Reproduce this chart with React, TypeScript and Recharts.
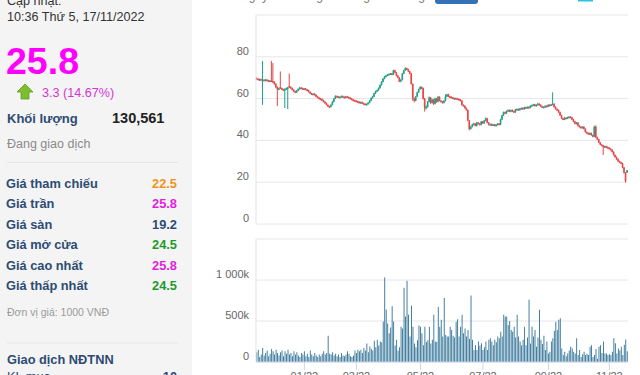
import { Bar, BarChart, CartesianGrid, XAxis, YAxis } from "recharts";

const FONT = '"Liberation Sans", Arial, sans-serif';
const GREEN = "#1f9f8a";
const RED = "#e84545";
const VOL = "#2f7196";

// sessions per month on the x axis (Nov 18 2021 - Nov 17 2022)
const monthLabels = ["11/21", "12/21", "01/22", "02/22", "03/22", "04/22", "05/22", "06/22", "07/22", "08/22", "09/22", "10/22", "11/22"];
const monthSessions = [9, 23, 19, 16, 23, 20, 20, 22, 21, 23, 20, 21, 13];
const shownMonths = ["01/22", "03/22", "05/22", "07/22", "09/22", "11/22"];

const opens = [
  69.8, 69.5, 69.2, 69.0, 68.8, 69.0, 68.8, 69.0, 68.7, 68.5,
  68.6, 68.4, 68.0, 67.0, 65.5, 64.6, 65.5, 65.0, 64.5, 64.2,
  64.5, 65.0, 66.0, 65.6, 65.0, 64.2, 63.5, 63.0, 63.8, 64.6,
  65.2, 65.0, 64.5, 64.8, 64.3, 64.0, 63.2, 62.5, 62.0, 62.3,
  61.8, 61.0, 60.5, 60.0, 59.8, 59.2, 58.5, 57.8, 57.0, 56.3,
  56.0, 57.0, 58.5, 60.0, 61.2, 61.0, 60.6, 60.8, 61.2, 60.8,
  60.5, 61.0, 60.7, 60.4, 60.0, 59.5, 59.2, 59.0, 58.7, 58.5,
  58.0, 58.3, 57.8, 57.5, 57.2, 57.4, 58.0, 59.0, 60.3, 61.0,
  62.5, 63.5, 64.0, 65.0, 66.5, 68.0, 69.5, 70.5, 71.0, 71.5,
  71.8, 72.0, 71.5, 73.5, 72.5, 71.0, 70.0, 68.2, 69.0, 72.0,
  73.5, 74.5, 74.0, 73.0, 72.0, 67.0, 60.0, 59.0, 61.0, 63.0,
  64.5, 65.5, 65.0, 60.0, 55.5, 56.0, 58.5, 60.5, 58.0, 59.5,
  57.5, 60.0, 58.5, 60.8, 59.0, 58.5, 58.0, 59.0, 61.0, 62.0,
  61.0, 60.8, 60.5, 60.0, 60.2, 60.0, 59.8, 59.5, 59.0, 57.0,
  56.5, 55.5, 54.5, 49.5, 45.5, 46.5, 47.5, 48.0, 47.0, 48.5,
  48.0, 47.5, 49.0, 48.2, 49.5, 50.5, 48.5, 47.5, 47.8, 47.2,
  47.6, 47.0, 47.5, 48.0, 47.6, 50.0, 52.0, 53.5, 53.0, 54.0,
  54.5, 53.8, 54.5, 54.0, 53.5, 54.8, 55.0, 54.5, 55.2, 55.5,
  55.0, 55.8, 55.5, 56.0, 55.6, 56.5, 56.8, 57.2, 56.5, 57.0,
  57.5, 57.0, 56.3, 55.8, 56.0, 56.5, 56.2, 57.0, 56.8, 57.2,
  57.5, 56.0, 55.0, 54.5, 53.5, 52.0, 50.5, 50.0, 50.8, 50.5,
  51.0, 51.3, 51.0, 50.0, 49.0, 48.0, 48.5, 47.0, 46.5, 46.0,
  46.5, 45.5, 44.0, 43.5, 43.0, 43.5, 42.5, 41.8, 46.5, 41.5,
  40.5, 39.0, 38.0, 37.5, 36.8, 37.2, 36.8, 36.5, 36.0, 35.5,
  34.5, 33.0, 32.0, 31.0, 30.0, 29.5, 29.0, 27.0, 24.5, 24.5,
];

const highs = [
  70.2, 69.8, 69.5, 69.6, 78.0, 69.3, 69.4, 69.3, 69.0, 68.9,
  78.0, 77.0, 68.3, 67.3, 65.8, 65.2, 73.0, 65.3, 64.8, 64.9,
  65.3, 65.6, 72.0, 65.9, 65.3, 64.5, 63.8, 64.1, 64.9, 65.6,
  65.5, 65.3, 65.1, 65.1, 64.6, 64.3, 63.5, 62.8, 62.6, 62.6,
  62.1, 61.3, 60.8, 60.3, 60.1, 59.5, 58.8, 58.1, 57.3, 56.6,
  57.3, 58.8, 60.3, 61.6, 61.5, 61.3, 61.1, 61.5, 61.5, 61.1,
  61.3, 61.3, 61.0, 60.7, 60.3, 59.8, 59.5, 59.3, 59.0, 58.8,
  58.6, 58.6, 58.1, 57.8, 57.7, 58.3, 59.3, 60.6, 61.3, 62.8,
  63.8, 64.3, 65.3, 66.8, 68.3, 69.8, 70.8, 71.3, 71.8, 72.1,
  72.3, 72.3, 73.8, 73.8, 72.8, 71.3, 70.3, 69.3, 72.3, 73.8,
  75.0, 74.8, 74.3, 73.3, 72.3, 67.3, 60.5, 61.3, 63.3, 64.8,
  66.0, 65.8, 65.3, 60.3, 56.8, 58.8, 61.0, 60.8, 60.0, 59.8,
  60.5, 60.3, 61.3, 61.1, 59.3, 58.8, 59.3, 62.0, 62.3, 62.3,
  61.3, 61.1, 60.8, 60.5, 60.5, 60.3, 60.1, 59.8, 59.3, 57.3,
  56.8, 55.8, 54.8, 49.8, 47.0, 48.0, 48.5, 48.3, 48.8, 48.8,
  48.3, 49.3, 49.3, 49.8, 51.0, 50.8, 48.8, 48.1, 48.1, 47.9,
  47.9, 47.8, 48.3, 48.3, 50.3, 52.3, 53.8, 53.8, 54.3, 54.8,
  54.8, 54.8, 54.8, 54.3, 55.1, 55.3, 55.3, 55.5, 55.8, 55.8,
  56.1, 56.1, 56.3, 56.3, 56.8, 57.1, 57.5, 57.5, 57.3, 58.0,
  57.8, 57.3, 56.6, 56.3, 56.8, 56.8, 57.3, 57.3, 57.5, 63.0,
  57.8, 56.3, 55.3, 54.8, 53.8, 52.3, 50.8, 51.1, 51.1, 51.3,
  51.6, 51.6, 51.3, 50.3, 49.3, 48.8, 48.8, 47.3, 46.8, 46.8,
  46.8, 45.8, 44.3, 43.8, 43.8, 43.8, 42.8, 47.0, 47.2, 41.8,
  40.8, 39.3, 38.3, 37.8, 37.5, 37.5, 37.1, 36.8, 36.3, 35.8,
  34.8, 33.3, 32.3, 31.3, 30.3, 29.8, 29.3, 27.3, 24.8, 25.8,
];

const lows = [
  69.2, 68.9, 68.7, 68.8, 57.0, 68.5, 68.5, 68.4, 68.2, 68.2,
  68.0, 67.6, 66.6, 65.0, 56.5, 64.2, 64.6, 64.1, 63.8, 55.5,
  64.2, 55.0, 65.2, 64.7, 63.9, 63.1, 62.6, 62.7, 63.5, 64.3,
  64.7, 64.2, 64.2, 64.0, 63.7, 62.9, 62.2, 61.7, 61.7, 61.5,
  60.7, 60.2, 59.7, 59.5, 58.9, 58.2, 57.5, 56.7, 56.0, 55.6,
  55.8, 56.8, 58.2, 59.8, 60.7, 60.3, 60.3, 60.5, 60.5, 60.2,
  60.2, 60.4, 60.1, 59.7, 59.2, 58.9, 58.7, 58.4, 58.2, 57.7,
  57.7, 57.5, 57.2, 56.9, 56.9, 57.1, 57.7, 58.7, 60.0, 60.7,
  62.2, 63.2, 63.7, 64.7, 66.2, 67.7, 69.2, 70.2, 70.7, 71.2,
  71.5, 71.2, 71.2, 72.2, 70.7, 69.7, 67.9, 67.9, 68.7, 71.7,
  73.2, 73.7, 72.7, 71.7, 66.7, 59.0, 58.2, 58.7, 60.7, 62.7,
  64.2, 64.5, 59.5, 53.8, 54.8, 55.7, 58.2, 57.5, 57.7, 57.0,
  57.2, 58.0, 58.2, 58.7, 58.2, 57.7, 57.7, 58.7, 60.7, 60.7,
  60.2, 60.2, 59.7, 59.7, 59.7, 59.5, 59.2, 58.7, 56.7, 56.2,
  55.2, 54.2, 49.2, 44.8, 45.2, 46.2, 47.2, 46.7, 46.7, 47.7,
  47.2, 47.2, 47.9, 47.9, 49.2, 48.2, 47.2, 47.2, 46.9, 46.9,
  46.7, 46.7, 47.2, 47.3, 47.3, 49.7, 51.7, 52.7, 52.7, 53.7,
  53.5, 53.5, 53.7, 53.2, 53.2, 54.5, 54.2, 54.2, 54.9, 54.7,
  54.7, 55.2, 55.2, 55.3, 55.3, 56.2, 56.5, 56.2, 56.2, 56.7,
  56.7, 56.0, 55.5, 55.5, 55.7, 55.9, 55.9, 56.5, 56.5, 56.9,
  55.7, 54.7, 54.2, 53.2, 51.7, 50.2, 49.7, 49.7, 50.2, 50.2,
  50.7, 50.7, 49.7, 48.7, 47.7, 47.7, 46.7, 46.2, 45.7, 45.7,
  45.2, 43.7, 43.2, 42.7, 42.7, 42.2, 41.5, 41.5, 41.2, 40.2,
  38.7, 37.7, 37.2, 33.0, 36.5, 36.5, 36.2, 35.7, 35.2, 34.2,
  32.7, 31.7, 30.7, 29.7, 29.2, 28.7, 26.7, 24.2, 19.8, 24.5,
];

const closes = [
  69.5, 69.2, 69.0, 69.3, 69.0, 68.8, 69.0, 68.7, 68.5, 68.6,
  68.4, 68.0, 67.0, 65.5, 64.6, 64.8, 65.0, 64.5, 64.2, 64.5,
  65.0, 65.3, 65.6, 65.0, 64.2, 63.5, 63.0, 63.8, 64.6, 65.2,
  65.0, 64.5, 64.8, 64.3, 64.0, 63.2, 62.5, 62.0, 62.3, 61.8,
  61.0, 60.5, 60.0, 59.8, 59.2, 58.5, 57.8, 57.0, 56.3, 56.0,
  57.0, 58.5, 60.0, 61.2, 61.0, 60.6, 60.8, 61.2, 60.8, 60.5,
  61.0, 60.7, 60.4, 60.0, 59.5, 59.2, 59.0, 58.7, 58.5, 58.0,
  58.3, 57.8, 57.5, 57.2, 57.4, 58.0, 59.0, 60.3, 61.0, 62.5,
  63.5, 64.0, 65.0, 66.5, 68.0, 69.5, 70.5, 71.0, 71.5, 71.8,
  72.0, 71.5, 73.5, 72.5, 71.0, 70.0, 68.2, 69.0, 72.0, 73.5,
  74.5, 74.0, 73.0, 72.0, 67.0, 60.0, 59.0, 61.0, 63.0, 64.5,
  65.5, 65.0, 60.0, 55.5, 56.0, 58.5, 60.5, 58.0, 59.5, 57.5,
  60.0, 58.5, 60.8, 59.0, 58.5, 58.0, 59.0, 61.0, 62.0, 61.0,
  60.5, 60.5, 60.0, 60.2, 60.0, 59.8, 59.5, 59.0, 57.0, 56.5,
  55.5, 54.5, 49.5, 45.5, 46.5, 47.5, 48.0, 47.0, 48.5, 48.0,
  47.5, 49.0, 48.2, 49.5, 50.5, 48.5, 47.5, 47.8, 47.2, 47.6,
  47.0, 47.5, 48.0, 47.6, 50.0, 52.0, 53.5, 53.0, 54.0, 54.5,
  53.8, 54.5, 54.0, 53.5, 54.8, 55.0, 54.5, 55.2, 55.5, 55.0,
  55.8, 55.5, 56.0, 55.6, 56.5, 56.8, 57.2, 56.5, 57.0, 57.5,
  57.0, 56.3, 55.8, 56.0, 56.5, 56.2, 57.0, 56.8, 57.2, 57.5,
  56.0, 55.0, 54.5, 53.5, 52.0, 50.5, 50.0, 50.8, 50.5, 51.0,
  51.3, 51.0, 50.0, 49.0, 48.0, 48.5, 47.0, 46.5, 46.0, 46.5,
  45.5, 44.0, 43.5, 43.0, 43.5, 42.5, 41.8, 46.5, 41.5, 40.5,
  39.0, 38.0, 37.5, 36.8, 37.2, 36.8, 36.5, 36.0, 35.5, 34.5,
  33.0, 32.0, 31.0, 30.0, 29.5, 29.0, 27.0, 24.5, 20.5, 25.8,
];

// thousand shares
const volumes = [
  120, 150, 60, 90, 170, 80, 110, 140, 70, 100,
  160, 130, 90, 150, 110, 80, 120, 140, 70, 130,
  100, 150, 90, 110, 70, 130, 90, 120, 80, 60,
  110, 90, 130, 70, 100, 60, 140, 90, 70, 110,
  80, 60, 90, 70, 100, 130, 90, 110, 320, 100,
  90, 120, 80, 100, 70, 90, 60, 110, 80, 70,
  90, 130, 100, 70, 60, 80, 140, 110, 150, 130,
  150, 110, 170, 140, 225, 120, 190, 160, 140, 260,
  180, 270, 200, 250, 240, 494, 1030, 640, 470, 350,
  420, 680, 494, 200, 270, 140, 180, 430, 410, 905,
  555, 990, 575, 310, 687, 430, 225, 180, 265, 444,
  430, 350, 205, 430, 245, 265, 430, 225, 270, 576,
  250, 245, 670, 430, 514, 310, 782, 330, 310, 310,
  430, 390, 320, 300, 490, 520, 310, 430, 576, 350,
  410, 310, 390, 280, 810, 270, 145, 205, 145, 250,
  200, 230, 145, 180, 250, 145, 270, 290, 250, 205,
  270, 240, 310, 290, 370, 310, 576, 555, 555, 450,
  500, 390, 370, 430, 300, 576, 310, 250, 205, 270,
  430, 205, 300, 760, 225, 430, 310, 390, 185, 300,
  637, 270, 220, 320, 145, 250, 105, 125, 250, 290,
  380, 490, 390, 514, 535, 165, 85, 125, 70, 105,
  140, 185, 165, 125, 105, 290, 85, 145, 60, 95,
  125, 85, 100, 85, 185, 205, 60, 85, 160, 40,
  185, 205, 110, 250, 105, 105, 85, 95, 85, 125,
  290, 230, 105, 165, 140, 185, 85, 210, 275, 131,
];

const priceTicks = [0, 20, 40, 60, 80, 100];
const volumeTicks = [0, 500, 1000, 1500];

const quoteLabels = ["Giá tham chiếu", "Giá trần", "Giá sàn", "Giá mở cửa", "Giá cao nhất", "Giá thấp nhất"];
const quoteValues = ["22.5", "25.8", "19.2", "24.5", "25.8", "24.5"];
const quoteColors = ["#f39220", "#e01ee0", "#2d4b73", "#1e9a2c", "#e01ee0", "#1e9a2c"];

const rangeTabs = ["1 ngày", "1 tháng", "3 tháng", "6 tháng", "1 năm", "2 năm", "Tất cả"];
const tabX = [232, 283, 330, 385, 442, 487, 535];

const sessionKeys: string[] = [];
monthLabels.forEach((m, mi) => {
  for (let n = 1; n <= monthSessions[mi]; n++) sessionKeys.push(`${m}#${n}`);
});

const rows = sessionKeys.map((day, i) => ({
  day,
  o: opens[i],
  h: highs[i],
  l: lows[i],
  c: closes[i],
  range: [lows[i], highs[i]],
  vol: volumes[i],
}));

const monthTicks = shownMonths.map((m) => `${m}#1`);

function renderCandle(props: any) {
  const { x, y, width, height, payload } = props;
  const { o, h, l, c } = payload;
  const span = h - l || 1;
  const toY = (v: number) => y + ((h - v) / span) * height;
  const color = c >= o ? GREEN : RED;
  const cx = x + width / 2;
  const bodyW = Math.max(1.6, width);
  const top = toY(Math.max(o, c));
  const bottom = toY(Math.min(o, c));
  return (
    <g>
      <rect x={cx - 0.5} y={y} width={1} height={Math.max(1, height)} fill={color} />
      <rect x={cx - bodyW / 2} y={top} width={bodyW} height={Math.max(1.5, bottom - top)} fill={color} />
    </g>
  );
}

function priceTick(p: any) {
  const v = p.payload.value;
  if (v === 100) return <g />;
  return (
    <text x={p.x} y={p.y} dy={-2} textAnchor="end" fontSize={11} fill="#666" fontFamily={FONT}>
      {v}
    </text>
  );
}

function volumeLabel(v: number) {
  if (v === 0) return "0";
  return v.toString().replace(/\B(?=(\d{3})+(?!\d))/g, " ") + "k";
}

function volumeTick(p: any) {
  const v = p.payload.value;
  if (v === 1500) return <g />;
  return (
    <text x={p.x} y={p.y} dy={-2} textAnchor="end" fontSize={11} fill="#666" fontFamily={FONT}>
      {volumeLabel(v)}
    </text>
  );
}

function SidePanel() {
  return (
    <svg width={640} height={375} style={{ position: "absolute", left: 0, top: 0 }} fontFamily={FONT}>
      <rect x={0} y={0} width={192} height={375} fill="#f4f4f4" />
      <text x={7} y={5} fontSize={12.6} fill="#333">Cập nhật:</text>
      <text x={7} y={20.5} fontSize={12.6} fill="#333">10:36 Thứ 5, 17/11/2022</text>
      <text x={6} y={74} fontSize={37.5} fontWeight="bold" fill="#ff00ff">25.8</text>
      <path d="M25 84 L33 92 L29 92 L29 99 L21 99 L21 92 L17 92 Z" fill="#7dbd30" stroke="#5f9c1d" strokeWidth={0.8} />
      <text x={42} y={97} fontSize={12.6} fill="#d434d4">3.3 (14.67%)</text>
      <text x={7} y={122.5} fontSize={13} fontWeight="bold" fill="#2d4b73">Khối lượng</text>
      <text x={112} y={122.5} fontSize={14.5} fontWeight="bold" fill="#222">130,561</text>
      <text x={7} y={148.3} fontSize={12.5} fill="#8a8a8a">Đang giao dịch</text>
      <line x1={7} x2={178} y1={162.5} y2={162.5} stroke="#e6e6e6" />
      {quoteLabels.map((label, i) => (
        <g key={label}>
          <text x={6} y={187.5 + i * 20.5} fontSize={12.8} fontWeight="bold" fill="#2d4b73">{label}</text>
          <text x={177} y={187.5 + i * 20.5} fontSize={12.8} fontWeight="bold" fill={quoteColors[i]} textAnchor="end">
            {quoteValues[i]}
          </text>
        </g>
      ))}
      <text x={7} y={316} fontSize={10.5} fill="#9a9a9a">Đơn vị giá: 1000 VNĐ</text>
      <line x1={7} x2={178} y1={343} y2={343} stroke="#e6e6e6" />
      <text x={7} y={363.5} fontSize={12.8} fontWeight="bold" fill="#2d4b73">Giao dịch NĐTNN</text>
      <text x={7} y={381} fontSize={12.8} fill="#2d4b73">KL mua</text>
      <text x={177} y={381} fontSize={12.8} fontWeight="bold" fill="#2d4b73" textAnchor="end">10</text>

      {/* range selector, mostly scrolled out of view */}
      <rect x={435} y={-12} width={43} height={16} rx={3} fill="#3471b5" />
      <rect x={578} y={-10} width={15} height={11.5} fill="#2cc3e6" />
      {rangeTabs.map((t, i) => (
        <text key={t} x={tabX[i]} y={0} fontSize={12} fill={i === 4 ? "#fff" : "#777"}>{t}</text>
      ))}
    </svg>
  );
}

export default function App() {
  return (
    <div
      style={{
        position: "fixed",
        left: 0,
        top: 0,
        width: 640,
        height: 375,
        overflow: "hidden",
        background: "#fff",
        fontFamily: FONT,
      }}
    >
      <SidePanel />
      <div style={{ position: "absolute", left: 200, top: 0 }}>
        <BarChart width={440} height={230} data={rows} margin={{ top: 15, right: 12, bottom: 6, left: 0 }} barCategoryGap="0%">
          <CartesianGrid vertical={false} stroke="#e6e6e6" />
          <XAxis dataKey="day" hide />
          <YAxis
            domain={[0, 100]}
            ticks={priceTicks}
            width={56}
            tickSize={5}
            tickMargin={2}
            tickLine={false}
            axisLine={{ stroke: "#e3e3e3" }}
            tick={priceTick}
            interval={0}
          />
          <Bar dataKey="range" shape={renderCandle} isAnimationActive={false} />
        </BarChart>
      </div>
      <div style={{ position: "absolute", left: 200, top: 230 }}>
        <BarChart width={440} height={162} data={rows} margin={{ top: 9, right: 12, bottom: 0, left: 0 }} barCategoryGap="20%">
          <CartesianGrid vertical={false} stroke="#e6e6e6" />
          <XAxis
            dataKey="day"
            ticks={monthTicks}
            interval={0}
            height={30}
            tickSize={8}
            tickMargin={2}
            axisLine={{ stroke: "#ccd6eb" }}
            tickLine={{ stroke: "#ccd6eb" }}
            tick={{ fontSize: 11, fill: "#666" }}
            tickFormatter={(k: string) => k.split("#")[0]}
          />
          <YAxis
            domain={[0, 1500]}
            ticks={volumeTicks}
            width={56}
            tickSize={5}
            tickMargin={2}
            tickLine={false}
            axisLine={{ stroke: "#e3e3e3" }}
            tick={volumeTick}
            interval={0}
          />
          <Bar dataKey="vol" fill={VOL} isAnimationActive={false} />
        </BarChart>
      </div>
    </div>
  );
}
